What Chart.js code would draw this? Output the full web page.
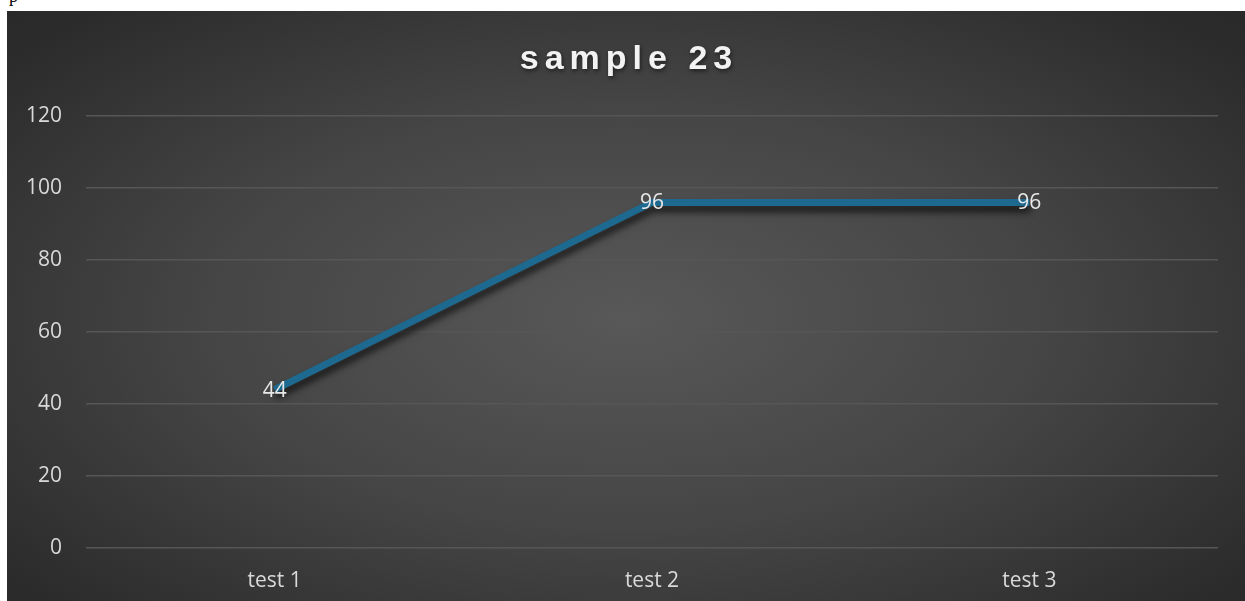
<!DOCTYPE html>
<html>
<head>
<meta charset="utf-8">
<script src="https://cdn.jsdelivr.net/npm/chart.js@4"></script>
<style>
  html, body { margin: 0; padding: 0; background: #ffffff; width: 1245px; height: 601px; overflow: hidden; }
  #frag { position: absolute; left: 9px; top: -14px; font: 18px "Liberation Serif", serif; color: #000; }
  #panel {
    position: absolute; left: 7px; top: 11px; width: 1238px; height: 590px;
    background: radial-gradient(ellipse 75% 80% at 50% 52%, #585858 0%, #454545 45%, #2c2c2c 85%, #272727 100%);
  }
  canvas { display: block; }
</style>
</head>
<body>
<div id="frag">p</div>
<div id="panel"><canvas id="c" width="1238" height="590"></canvas></div>
<script>
const chartTitle = 'sample 23';
const categories = ['test 1', 'test 2', 'test 3'];
const scores = [44, 96, 96];
const yTicks = [0, 20, 40, 60, 80, 100, 120];

const FONT = '"Open Sans", "Liberation Sans", Arial, sans-serif';
const TITLE_FONT = '"Liberation Sans", Arial, sans-serif';

// Title with wide letter spacing and a soft drop shadow
const titlePlugin = {
  id: 'spacedTitle',
  afterDraw(chart) {
    const ctx = chart.ctx;
    ctx.save();
    ctx.font = 'bold 34px ' + TITLE_FONT;
    ctx.letterSpacing = '6px';
    ctx.fillStyle = '#f2f2f2';
    ctx.textAlign = 'center';
    ctx.textBaseline = 'middle';
    ctx.shadowColor = 'rgba(0,0,0,0.55)';
    ctx.shadowBlur = 4;
    ctx.shadowOffsetX = 1;
    ctx.shadowOffsetY = 2;
    ctx.fillText(chartTitle, chart.width / 2 + 3, 49);
    ctx.restore();
  }
};

// Shadow under the line
const lineShadow = {
  id: 'lineShadow',
  beforeDatasetDraw(chart) {
    const ctx = chart.ctx;
    ctx.save();
    ctx.shadowColor = 'rgba(0,0,0,0.7)';
    ctx.shadowBlur = 7;
    ctx.shadowOffsetX = 1;
    ctx.shadowOffsetY = 6;
  },
  afterDatasetDraw(chart) {
    chart.ctx.restore();
  }
};

// Value labels centred on each point
const valueLabels = {
  id: 'valueLabels',
  afterDatasetsDraw(chart) {
    const ctx = chart.ctx;
    const meta = chart.getDatasetMeta(0);
    const data = chart.data.datasets[0].data;
    ctx.save();
    ctx.font = '21px ' + FONT;
    ctx.fillStyle = '#e8e8e8';
    ctx.textAlign = 'center';
    ctx.textBaseline = 'middle';
    meta.data.forEach((pt, i) => {
      ctx.fillText(String(data[i]), pt.x, pt.y + 1);
    });
    ctx.restore();
  }
};

new Chart(document.getElementById('c'), {
  type: 'line',
  data: {
    labels: categories,
    datasets: [{
      data: scores,
      borderColor: '#1d6990',
      borderWidth: 7,
      pointRadius: 0,
      tension: 0,
      fill: false
    }]
  },
  options: {
    responsive: false,
    animation: false,
    events: [],
    layout: { padding: { top: 105, right: 27, left: 0, bottom: 0 } },
    plugins: {
      legend: { display: false },
      title: { display: false },
      tooltip: { enabled: false }
    },
    scales: {
      x: {
        offset: true,
        grid: { display: false, drawTicks: false },
        border: { display: false },
        ticks: { color: '#d9d9d9', font: { family: FONT, size: 21 }, padding: 20 },
        afterFit(scale) { scale.height = 53; }
      },
      y: {
        min: 0,
        max: 120,
        afterBuildTicks(scale) { scale.ticks = yTicks.map(v => ({ value: v })); },
        grid: { color: '#565656', lineWidth: 1.5, drawTicks: false },
        border: { display: false },
        ticks: { color: '#d9d9d9', font: { family: FONT, size: 21 }, padding: 24 },
        afterFit(scale) { scale.width = 79; }
      }
    }
  },
  plugins: [lineShadow, valueLabels, titlePlugin]
});
</script>
</body>
</html>
